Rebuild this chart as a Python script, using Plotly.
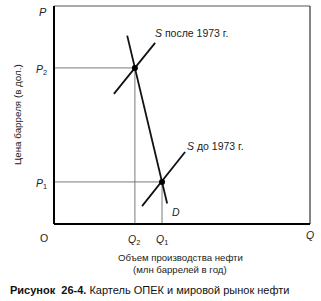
import plotly.graph_objects as go

# Data (abstract units 0..100)
q_points = [31.6, 42.2]          # Q2, Q1
p_points = [71.6, 19.3]          # P2, P1
demand_x = [28.6, 44.2]
demand_y = [86.4, 9.4]
s_after_x = [23.4, 39.5]
s_after_y = [59.7, 83.1]
s_before_x = [34.4, 51.2]
s_before_y = [8.2, 33.0]

L, R, T, B = 54, 11, 6, 77
W, H = 321, 301
pw, ph = W - L - R, H - T - B

def px(x):
    return (x - L) / pw

def py(y):
    return (H - B - y) / ph

fig = go.Figure()

gray = "#7a7a7a"
for q, p in zip(q_points, p_points):
    fig.add_trace(go.Scatter(x=[0, q, q], y=[p, p, 0], mode="lines",
                             line=dict(color=gray, width=1), hoverinfo="skip"))

for xs, ys in [(demand_x, demand_y), (s_after_x, s_after_y), (s_before_x, s_before_y)]:
    fig.add_trace(go.Scatter(x=xs, y=ys, mode="lines",
                             line=dict(color="#111", width=1.8), hoverinfo="skip"))

fig.add_trace(go.Scatter(x=q_points, y=p_points, mode="markers",
                         marker=dict(color="black", size=6), hoverinfo="skip"))

fig.update_xaxes(range=[0, 100], showgrid=False, zeroline=False, showticklabels=False,
                 showline=False, fixedrange=True)
fig.update_yaxes(range=[0, 100], showgrid=False, zeroline=False, showticklabels=False,
                 showline=False, fixedrange=True)

shapes = [
    dict(type="line", xref="paper", yref="paper", x0=0, x1=1, y0=1, y1=1,
         line=dict(color="#555", width=1)),
    dict(type="line", xref="paper", yref="paper", x0=1, x1=1, y0=0, y1=1,
         line=dict(color="#333", width=1.2)),
    dict(type="line", xref="paper", yref="paper", x0=0, x1=0, y0=0, y1=1,
         line=dict(color="black", width=2)),
    dict(type="line", xref="paper", yref="paper", x0=0, x1=1, y0=0, y1=0,
         line=dict(color="black", width=2)),
]

FONT = "Liberation Sans, Arial, sans-serif"
ann = []

def add(text, x, y, size=10, xanchor="center", yanchor="middle", angle=0, color="#222"):
    ann.append(dict(text=text, x=px(x), y=py(y), xref="paper", yref="paper",
                    showarrow=False, xanchor=xanchor, yanchor=yanchor, textangle=angle,
                    font=dict(family=FONT, size=size, color=color)))

add("<i>P</i>", 43, 12, size=11)
add("<i>P</i><sub>2</sub>", 41, 70, size=10.5)
add("<i>P</i><sub>1</sub>", 41, 184, size=10.5)
add("O", 44, 238, size=10.5)
add("<i>Q</i><sub>2</sub>", 134, 240, size=10.5)
add("<i>Q</i><sub>1</sub>", 162, 240, size=10.5)
add("<i>Q</i>", 310, 235, size=10.5)
add("<i>D</i>", 176, 212, size=10.5)
add("<i>S</i> после 1973 г.", 153, 33, size=10.5, xanchor="left")
add("<i>S</i> до 1973 г.", 185, 146, size=10.5, xanchor="left")
add("Цена барреля (в дол.)", 17, 115, size=9.8, angle=-90)
add("Объем производства нефти", 180, 257, size=9.6)
add("(млн баррелей в год)", 180, 269, size=9.6)
add("<b>Рисунок  26-4.</b> Картель ОПЕК и мировой рынок нефти", 8, 290, size=11,
    xanchor="left", color="#111")

fig.update_layout(width=W, height=H, margin=dict(l=L, r=R, t=T, b=B),
                  plot_bgcolor="white", paper_bgcolor="white", showlegend=False,
                  shapes=shapes, annotations=ann)

fig.write_html("out.html", config={"displayModeBar": False})
